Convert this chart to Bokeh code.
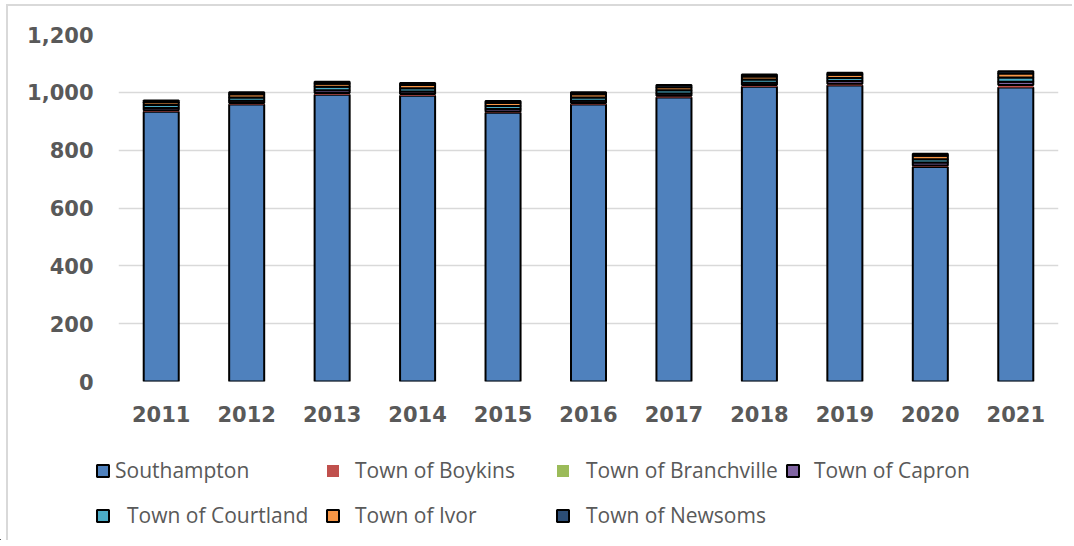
from bokeh.plotting import figure
from bokeh.models import Legend, LegendItem, NumeralTickFormatter, FactorRange, ColumnDataSource
from bokeh.transform import stack
from bokeh.embed import file_html
from bokeh.resources import INLINE

years = ["2011", "2012", "2013", "2014", "2015", "2016", "2017", "2018", "2019", "2020", "2021"]
southampton = [933, 958, 992, 988, 929, 958, 982, 1019, 1024, 742, 1017]
boykins = [4, 4, 5, 5, 4, 4, 5, 5, 5, 4, 6]
branchville = [1, 1, 1, 1, 1, 1, 1, 1, 1, 1, 2]
capron = [8, 8, 9, 9, 8, 8, 8, 8, 9, 10, 12]
courtland = [10, 11, 12, 11, 11, 11, 11, 11, 11, 12, 14]
ivor = [10, 11, 11, 11, 10, 11, 11, 11, 11, 12, 14]
newsoms = [6, 7, 7, 7, 7, 7, 7, 7, 7, 7, 8]

series = ["Southampton", "Town of Boykins", "Town of Branchville", "Town of Capron",
          "Town of Courtland", "Town of Ivor", "Town of Newsoms"]
colors = ["#4f81bd", "#c0504d", "#9bbb59", "#8064a2", "#4bacc6", "#f79646", "#2c4d75"]
outlined = [True, False, False, True, True, True, True]

data = {"year": years, "Southampton": southampton, "Town of Boykins": boykins,
        "Town of Branchville": branchville, "Town of Capron": capron,
        "Town of Courtland": courtland, "Town of Ivor": ivor, "Town of Newsoms": newsoms}

p = figure(x_range=FactorRange(*years, range_padding=0), y_range=(0, 1200),
           width=1072, height=430, output_backend="svg", toolbar_location=None,
           min_border_left=118, min_border_right=14, min_border_top=34, min_border_bottom=49)

for i, s in enumerate(series):
    bottom_cols = series[:i]
    p.vbar(x="year", width=0.41, bottom=stack(*bottom_cols) if bottom_cols else 0,
           top=stack(*series[:i + 1]), source=data, fill_color=colors[i],
           line_color="black" if outlined[i] else None, line_width=2)

p.outline_line_color = None
p.border_fill_color = None
p.xgrid.grid_line_color = None
p.ygrid.grid_line_color = "#d9d9d9"
p.ygrid.grid_line_width = 1.5
p.yaxis.ticker = [0, 200, 400, 600, 800, 1000, 1200]
p.yaxis.formatter = NumeralTickFormatter(format="0,0")
for ax in (p.xaxis[0], p.yaxis[0]):
    ax.axis_line_color = None
    ax.major_tick_line_color = None
    ax.minor_tick_line_color = None
    ax.major_label_text_font = "DejaVu Sans"
    ax.major_label_text_font_style = "bold"
    ax.major_label_text_font_size = "21px"
    ax.major_label_text_color = "#595959"
p.xaxis.major_label_standoff = 18
p.yaxis.major_label_standoff = 19
p.styles = {"box-shadow": "inset 6px 4px 0 0 white, inset 8px 6px 0 0 #d9d9d9"}

# legend strip below the chart (swatch renderers lie outside its visible range)
lp = figure(width=1072, height=110, output_backend="svg", toolbar_location=None,
            x_range=(0, 1), y_range=(0, 1), min_border=0,
            x_axis_location=None, y_axis_location=None)
lp.grid.visible = False
lp.outline_line_color = None
lp.border_fill_color = None
lp.background_fill_color = None
lp.styles = {"box-shadow": "inset 6px 0 0 0 white, inset 8px 0 0 0 #d9d9d9"}
dummy = ColumnDataSource(data=dict(x=[-5], top=[-5]))
legend_renderers = []
for i, s in enumerate(series):
    r = lp.vbar(x="x", top="top", width=0.1, source=dummy, fill_color=colors[i],
                line_color="black" if outlined[i] else None, line_width=2)
    legend_renderers.append(r)

col_x = [95, 325, 555, 785]
row_vy = [56, 11]
standoffs = [5, 15, 16, 14, 17, 15, 16]
positions = [(0, 0), (1, 0), (2, 0), (3, 0), (0, 1), (1, 1), (2, 1)]
for i, s in enumerate(series):
    c, rr = positions[i]
    lg = Legend(items=[LegendItem(label=s, renderers=[legend_renderers[i]])],
                location=(col_x[c], row_vy[rr]), orientation="horizontal",
                padding=0, margin=0, spacing=0, border_line_color=None,
                background_fill_alpha=0, glyph_width=15, glyph_height=15,
                label_height=15, label_standoff=standoffs[i],
                label_text_font="Open Sans", label_text_font_size="21px",
                label_text_color="#595959")
    lp.add_layout(lg, "center")

open("out.html", "w").write(file_html([p, lp], INLINE))
